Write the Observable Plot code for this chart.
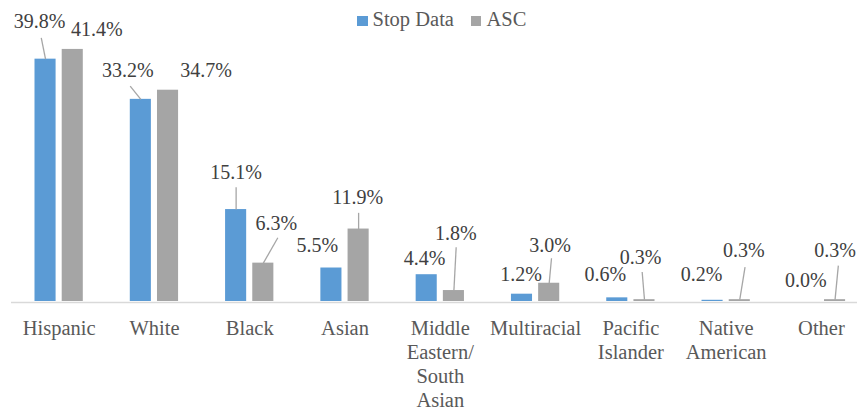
<!DOCTYPE html>
<html><head><meta charset="utf-8">
<script src="https://cdn.jsdelivr.net/npm/d3@7"></script>
<script src="https://cdn.jsdelivr.net/npm/@observablehq/plot@0.6"></script>
<style>
body{margin:0;background:#fff;}
#wrap{position:relative;width:857px;height:411px;overflow:hidden;}
#legend{position:absolute;left:357px;top:9px;font-family:"Liberation Serif","Times New Roman",Tinos,"DejaVu Serif",serif;font-size:20.5px;line-height:1;color:#595959;white-space:nowrap;}
#legend .item{display:inline-block;margin-right:17px;}
#legend .sw{display:inline-block;width:10.5px;height:10.5px;margin-right:5px;}
</style></head>
<body><div id="wrap"><div id="legend"></div></div>
<script>
const categories = ["Hispanic","White","Black","Asian","Middle Eastern/South Asian","Multiracial","Pacific Islander","Native American","Other"];
const tickLabels = ["Hispanic","White","Black","Asian","Middle\nEastern/\nSouth\nAsian","Multiracial","Pacific\nIslander","Native\nAmerican","Other"];
const seriesNames = ["Stop Data","ASC"];
const seriesColors = ["#5B9BD5","#A5A5A5"];
const stopData = [39.8,33.2,15.1,5.5,4.4,1.2,0.6,0.2,0.0];
const ascData = [41.4,34.7,6.3,11.9,1.8,3.0,0.3,0.3,0.3];
// data-label offsets (px) from the top centre of each bar: [dx, dy]
const stopLabelOffsets = [[-6,-38],[-13,-29],[0,-37],[-14,-22],[-2,-16],[-1,-20],[-12,-23],[-11,-26],[-2,-21]];
const ascLabelOffsets = [[24,-20],[38,-20],[13,-40],[-1,-31.5],[2,-57],[1,-38],[-4,-42.5],[4,-49],[0,-49]];
// leader lines: [length px, angle deg from vertical]
const stopLeaders = [[21.7,-11.4],[17,-38.8],[22.3,0],null,null,null,null,null,null];
const ascLeaders = [null,null,[29.2,29.8],[16.2,0],[43.4,3],[25.1,5.3],[27.7,-4.8],[33,9.2],[34.2,5.5]];

const serif = "'Liberation Serif','Times New Roman',Tinos,'DejaVu Serif',serif";
const rows = (vals) => categories.map((c, i) => ({cat: c, value: vals[i], i}));
const stopRows = rows(stopData);
const ascRows = rows(ascData);
const barShift = 13.6;

const lineShape = {draw(ctx, l) { ctx.moveTo(0, 0); ctx.lineTo(0, -l); }};

function labelMarks(rowsArr, offsets, leaders, shift) {
  const marks = [];
  rowsArr.forEach((d, i) => {
    const ld = leaders[i];
    if (ld) {
      marks.push(Plot.vector([d], {x: "cat", y: "value", length: ld[0], rotate: ld[1], anchor: "start",
        dx: shift, r: 0, shape: lineShape, stroke: "#A6A6A6", strokeWidth: 1.3, strokeLinecap: "butt"}));
    }
    marks.push(Plot.text([d], {x: "cat", y: "value", text: r => r.value.toFixed(1) + "%",
      dx: shift + offsets[i][0], dy: offsets[i][1], fontSize: 20, fill: "#404040", fontFamily: serif}));
  });
  return marks;
}

const chart = Plot.plot({
  width: 857,
  height: 411,
  marginLeft: 11,
  marginRight: -11.6,
  marginTop: 27,
  marginBottom: 110,
  style: {fontFamily: serif, background: "transparent"},
  x: {type: "band", domain: categories, padding: 0, round: false, axis: null},
  y: {domain: [0, 45], axis: null},
  marks: [
    Plot.barY(stopRows, {x: "cat", y: "value", fill: seriesColors[0], insetLeft: 23.5, insetRight: 50.7}),
    Plot.barY(ascRows, {x: "cat", y: "value", fill: seriesColors[1], insetLeft: 50.7, insetRight: 23.5}),
    Plot.ruleY([0], {stroke: "#D9D9D9", strokeWidth: 1.3, dy: 1}),
    ...labelMarks(stopRows, stopLabelOffsets, stopLeaders, -barShift),
    ...labelMarks(ascRows, ascLabelOffsets, ascLeaders, barShift),
    Plot.text(categories, {x: d => d, text: (d, i) => tickLabels[i], frameAnchor: "bottom", lineAnchor: "top",
      dy: 16, lineHeight: 1.175, fontSize: 20.5, fill: "#595959", fontFamily: serif})
  ]
});
document.getElementById("wrap").prepend(chart);

const legend = document.getElementById("legend");
seriesNames.forEach((name, i) => {
  const item = document.createElement("span");
  item.className = "item";
  const sw = document.createElement("span");
  sw.className = "sw";
  sw.style.background = seriesColors[i];
  item.appendChild(sw);
  item.appendChild(document.createTextNode(name));
  legend.appendChild(item);
});
</script>
</body></html>
